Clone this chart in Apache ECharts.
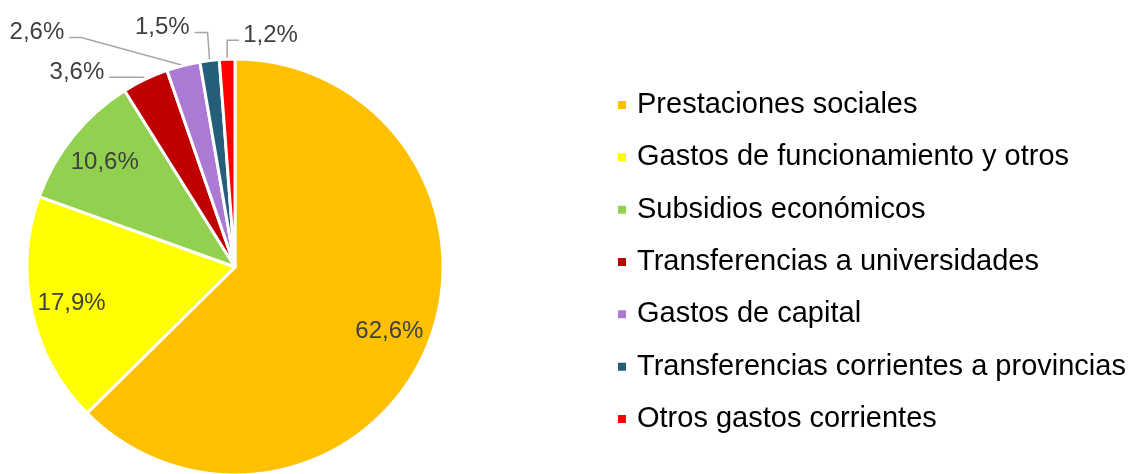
<!DOCTYPE html>
<html><head><meta charset="utf-8">
<script src="https://cdn.jsdelivr.net/npm/echarts@6/dist/echarts.min.js"></script>
<style>html,body{margin:0;padding:0;background:#fff}#c{width:1133px;height:474px}</style>
</head><body><div id="c"></div>
<script>
const categories = ["Prestaciones sociales","Gastos de funcionamiento y otros","Subsidios económicos","Transferencias a universidades","Gastos de capital","Transferencias corrientes a provincias","Otros gastos corrientes"];
const values = [62.6, 17.9, 10.6, 3.6, 2.6, 1.5, 1.2];
const colors = ["#FFC000","#FFFF00","#92D050","#C00000","#AB7AD5","#255E79","#FF0000"];
const insideIdx = [0,1,2];
// leader-line shape for outside labels: [dx of first segment, dy of first segment, length of horizontal segment]
const leaderShape = {3:[-2,-2,-34], 4:[-102,-28,-12], 5:[-2,-28,-13], 6:[0,-19,12]};

const FONT = 'Liberation Sans, Arial, sans-serif';
const chart = echarts.init(document.getElementById('c'), null, {renderer:'canvas'});
const fmt = p => p.value.toFixed(1).replace('.', ',') + '%';
const R = 208;
const center = [235, 267];

chart.setOption({
  animation:false,
  color: colors,
  textStyle:{fontFamily:FONT},
  legend:{
    orient:'vertical', left:611, top:84,
    itemWidth:10, itemHeight:10, itemGap:20.33,
    icon:'rect',
    textStyle:{fontSize:29, color:'#000', lineHeight:32, padding:[0,0,0,5], fontFamily:FONT},
    data: categories
  },
  series:[
    {
      type:'pie', center:center, radius:[0,R], startAngle:90, clockwise:true,
      itemStyle:{borderColor:'#fff', borderWidth:3},
      avoidLabelOverlap:false,
      label:{show:true, formatter:fmt, fontSize:24, color:'#404040', fontFamily:FONT},
      labelLine:{show:true, length:15, length2:10, lineStyle:{color:'#A6A6A6', width:1.5}},
      labelLayout: function(params){
        const s = leaderShape[params.dataIndex];
        if (!s || !params.labelLinePoints) return {};
        const p0 = params.labelLinePoints[0];
        const p1 = [p0[0]+s[0], p0[1]+s[1]];
        const p2 = [p1[0]+s[2], p1[1]];
        const left = s[2] < 0;
        return {x: p2[0] + (left ? -5 : 4), y: p2[1] - 5, align: left ? 'right' : 'left', verticalAlign:'middle', labelLinePoints:[p0,p1,p2]};
      },
      data: categories.map((n,i)=>({name:n, value:values[i],
        label: insideIdx.includes(i)?{show:false}:{show:true},
        labelLine: insideIdx.includes(i)?{show:false}:{show:true}}))
    },
    {
      type:'pie', center:center, radius:[0,R*1.58], startAngle:90, clockwise:true,
      silent:true, legendHoverLink:false,
      itemStyle:{color:'transparent', borderWidth:0},
      label:{show:true, position:'inside', formatter:fmt, fontSize:24, color:'#404040', fontFamily:FONT},
      labelLine:{show:false},
      data: categories.map((n,i)=>({name:n+' ', value:values[i],
        label: insideIdx.includes(i)?{show:true}:{show:false}}))
    }
  ]
});
</script></body></html>
